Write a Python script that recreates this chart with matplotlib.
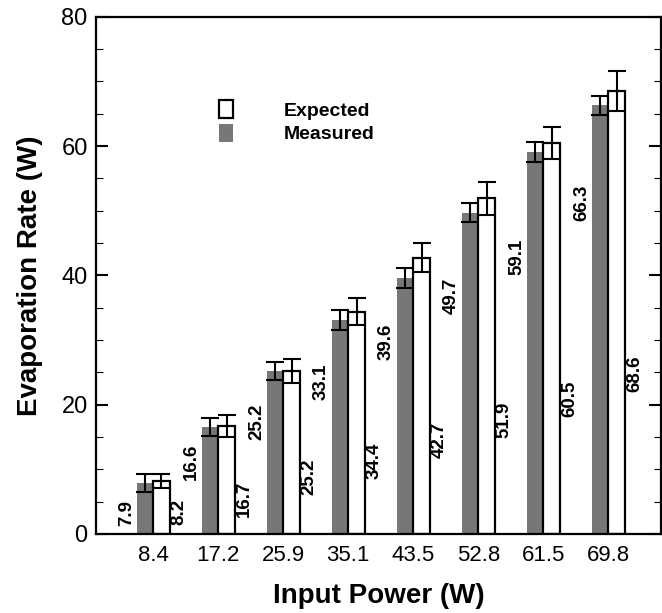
import numpy as np
import matplotlib
matplotlib.use("Agg")
import matplotlib.pyplot as plt
from matplotlib.ticker import MultipleLocator

plt.rcParams["font.family"] = ["Liberation Sans", "DejaVu Sans"]

# data
input_power = ["8.4", "17.2", "25.9", "35.1", "43.5", "52.8", "61.5", "69.8"]
measured = [7.9, 16.6, 25.2, 33.1, 39.6, 49.7, 59.1, 66.3]
expected = [8.2, 16.7, 25.2, 34.4, 42.7, 51.9, 60.5, 68.6]
measured_err = [1.4, 1.4, 1.4, 1.5, 1.5, 1.5, 1.5, 1.5]
expected_err = [1.1, 1.65, 1.9, 2.05, 2.25, 2.5, 2.5, 3.1]

# where the rotated value labels sit (centre height, data units)
measured_label_y = [3.3, 11.2, 17.4, 23.6, 29.8, 36.9, 42.9, 51.3]
expected_label_y = [3.4, 5.5, 8.8, 11.3, 14.6, 17.7, 20.9, 24.8]

x = np.arange(len(input_power))
width = 0.255
gap = 0.025

fig = plt.figure(figsize=(6.62, 6.13), dpi=100)
ax = fig.add_axes([0.145, 0.129, 0.8535, 0.8435])

bars_m = ax.bar(x - width / 2, measured, width, color="#777777", edgecolor="none",
                label="Measured", zorder=2)
bars_e = ax.bar(x + width / 2, expected, width, color="white", edgecolor="black",
                linewidth=1.6, label="Expected", zorder=2)

ax.errorbar(x - width / 2, measured, yerr=measured_err, fmt="none", ecolor="black",
            elinewidth=1.5, capsize=6.2, capthick=1.5, zorder=3)
ax.errorbar(x + width / 2, expected, yerr=expected_err, fmt="none", ecolor="black",
            elinewidth=1.5, capsize=6.2, capthick=1.5, zorder=3)

for i in range(len(x)):
    ax.text(x[i] - width - gap, measured_label_y[i], f"{measured[i]:.1f}", rotation=90,
            ha="right", va="center", fontsize=13.5, fontweight="bold")
    ax.text(x[i] + width + 0.015, expected_label_y[i], f"{expected[i]:.1f}", rotation=90,
            ha="left", va="center", fontsize=13.5, fontweight="bold")

ax.set_xlim(-0.88, 7.81)
ax.set_ylim(0, 80)
ax.set_xticks(x)
ax.set_xticklabels(input_power)
ax.yaxis.set_major_locator(MultipleLocator(20))
ax.yaxis.set_minor_locator(MultipleLocator(5))

ax.tick_params(axis="x", length=0, pad=8, labelsize=16)
ax.tick_params(axis="y", which="major", direction="in", length=8.5, width=1.5,
               right=True, labelsize=17, pad=6)
ax.tick_params(axis="y", which="minor", direction="in", length=5, width=0.8, right=True)

for side in ["left", "bottom", "top", "right"]:
    ax.spines[side].set_linewidth(1.6)

ax.set_xlabel("Input Power (W)", fontsize=20, fontweight="bold", labelpad=12)
ax.set_ylabel("Evaporation Rate (W)", fontsize=20, fontweight="bold", labelpad=13)

ax.legend(handles=[bars_e, bars_m], labels=["Expected", "Measured"],
          loc="upper left", bbox_to_anchor=(0.2, 0.858), frameon=False,
          prop={"size": 14, "weight": "bold"}, handlelength=0.75, handleheight=1.05,
          handletextpad=2.6, labelspacing=0.2, borderpad=0)

fig.savefig("out.png", dpi=100)
